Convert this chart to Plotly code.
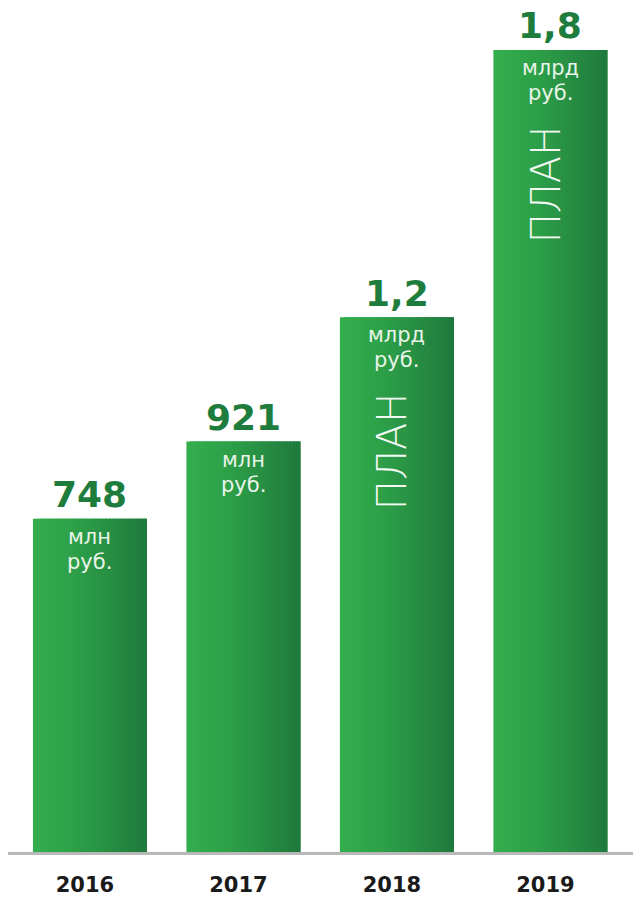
import plotly.graph_objects as go

years = ["2016", "2017", "2018", "2019"]
values = [748, 921, 1200, 1800]
value_labels = ["748", "921", "1,2", "1,8"]
unit_line1 = ["млн", "млн", "млрд", "млрд"]
unit_line2 = ["руб.", "руб.", "руб.", "руб."]
plan_flags = [False, False, True, True]

BAR_W = 0.743
N = 30
left_rgb = (50, 173, 76)
right_rgb = (31, 122, 61)

fig = go.Figure()
step = BAR_W / N
for i in range(N):
    t = i / (N - 1)
    t2 = t ** 1.3
    c = tuple(round(left_rgb[k] + (right_rgb[k] - left_rgb[k]) * t2) for k in range(3))
    w = min(step * 2.5, BAR_W - i * step)
    fig.add_trace(go.Bar(
        x=years, y=values,
        width=w,
        offset=-BAR_W / 2 + i * step,
        marker=dict(color="rgb(%d,%d,%d)" % c, line=dict(width=0)),
        hoverinfo="skip", showlegend=False,
    ))

for idx, (v, lab, u1, u2, plan) in enumerate(zip(values, value_labels, unit_line1, unit_line2, plan_flags)):
    fig.add_annotation(x=idx, y=v, text=lab, showarrow=False, yanchor="middle",
                       yshift=24, font=dict(family="DejaVu Sans", size=36, color="#1e7d3c", weight="bold"))
    fig.add_annotation(x=idx, y=v, text=u1, showarrow=False, yanchor="middle",
                       yshift=-18, font=dict(family="DejaVu Sans", size=21, color="#e8f4e8"))
    fig.add_annotation(x=idx, y=v, text=u2, showarrow=False, yanchor="middle",
                       yshift=-43, font=dict(family="DejaVu Sans", size=21, color="#e8f4e8"))
    if plan:
        fig.add_annotation(x=idx, y=v, text="ПЛАН", showarrow=False, yanchor="middle",
                           xanchor="center", textangle=-90, xshift=-5, yshift=-134,
                           font=dict(family="DejaVu Sans", size=40, color="#f2f8f2", weight=200))

fig.update_layout(
    width=633, height=897,
    margin=dict(l=8, r=0, t=0, b=43),
    paper_bgcolor="white", plot_bgcolor="white",
    barmode="overlay",
    xaxis=dict(type="category", range=[-0.534, 3.538], showgrid=False, zeroline=False,
               showline=True, linecolor="#b8b8b8", linewidth=3, ticks="",
               tickfont=dict(family="DejaVu Sans", size=21, color="#1a1a1a", weight="bold"),
               ticklabelstandoff=12, ticklabelshift=-5),
    yaxis=dict(range=[0, 1800 * 854 / 804], visible=False, showgrid=False, zeroline=False),
)

fig.write_html("out.html", config={"displayModeBar": False},
               post_script="document.body.style.margin='0';")
